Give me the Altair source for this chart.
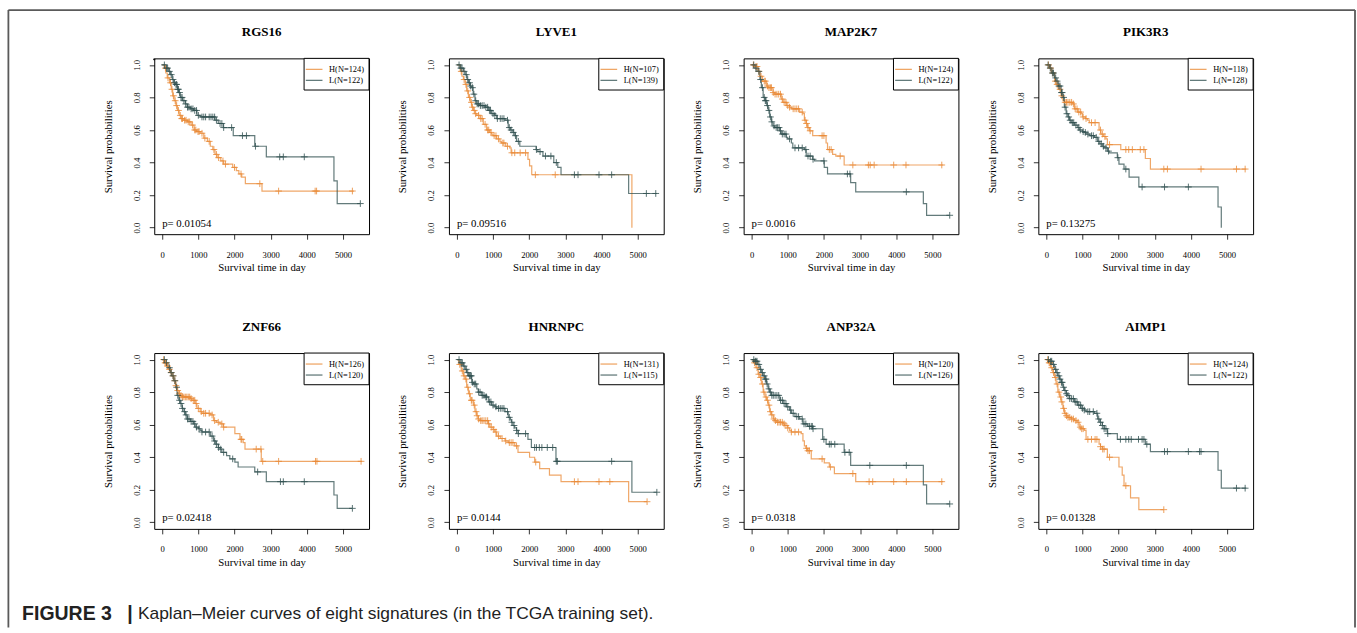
import altair as alt
import pandas as pd

# ---------------- data ----------------
GENES = ["RGS16", "LYVE1", "MAP2K7", "PIK3R3", "ZNF66", "HNRNPC", "ANP32A", "AIMP1"]
N_H = [124, 107, 124, 118, 126, 131, 120, 124]
N_L = [122, 139, 122, 128, 120, 115, 126, 122]
P_VALUES = ["0.01054", "0.09516", "0.0016", "0.13275", "0.02418", "0.0144", "0.0318", "0.01328"]

X_TICKS = [0, 1000, 2000, 3000, 4000, 5000]
Y_TICKS = [0.0, 0.2, 0.4, 0.6, 0.8, 1.0]

# RGS16
RGS16_H_T = [0, 60, 100, 140, 200, 250, 290, 330, 380, 420, 470, 520, 600, 700, 800, 880, 950, 1050, 1150, 1250, 1330, 1400, 1460, 1520, 1620, 1700, 1950, 2050, 2120, 2200, 2300, 2760, 5300]
RGS16_H_S = [1, 0.98, 0.95, 0.92, 0.89, 0.85, 0.81, 0.78, 0.75, 0.72, 0.69, 0.67, 0.66, 0.65, 0.63, 0.60, 0.59, 0.58, 0.55, 0.53, 0.50, 0.48, 0.45, 0.43, 0.41, 0.39, 0.37, 0.35, 0.33, 0.31, 0.27, 0.225, 0.225]
RGS16_H_C = [90, 160, 230, 270, 310, 360, 400, 450, 500, 540, 560, 620, 660, 720, 760, 840, 900, 930, 990, 1020, 1100, 1180, 1300, 1430, 1500, 1560, 1680, 1750, 2000, 2180, 2700, 3220, 4230, 4270, 5260]
RGS16_L_T = [0, 100, 180, 230, 280, 320, 370, 420, 460, 500, 560, 640, 690, 780, 870, 960, 1050, 1460, 1550, 1690, 1965, 2560, 2880, 4750, 4840, 5480]
RGS16_L_S = [1, 0.98, 0.96, 0.94, 0.91, 0.89, 0.88, 0.85, 0.83, 0.80, 0.78, 0.76, 0.74, 0.73, 0.72, 0.69, 0.68, 0.66, 0.64, 0.615, 0.565, 0.50, 0.435, 0.287, 0.148, 0.148]
RGS16_L_C = [60, 120, 150, 200, 250, 300, 340, 380, 400, 430, 450, 480, 520, 550, 600, 650, 700, 740, 800, 850, 900, 950, 1000, 1100, 1150, 1200, 1300, 1350, 1400, 1450, 1500, 1600, 1650, 1700, 1920, 2220, 2330, 2580, 3250, 3350, 3930, 5480]

# LYVE1
LYVE1_H_T = [0, 90, 140, 180, 230, 270, 320, 370, 410, 460, 500, 550, 640, 730, 820, 900, 960, 1000, 1100, 1190, 1230, 1350, 1460, 1500, 1965, 2010, 2070, 4840]
LYVE1_H_S = [1, 0.96, 0.93, 0.91, 0.88, 0.84, 0.80, 0.77, 0.74, 0.72, 0.70, 0.69, 0.67, 0.635, 0.60, 0.585, 0.575, 0.565, 0.545, 0.53, 0.52, 0.50, 0.49, 0.46, 0.42, 0.38, 0.325, 0.0]
LYVE1_H_C = [120, 200, 250, 300, 350, 400, 430, 480, 520, 600, 660, 700, 780, 850, 880, 940, 1030, 1080, 1150, 1270, 1300, 1400, 1520, 1600, 1750, 1900, 2170, 2720]
LYVE1_L_T = [0, 90, 180, 230, 280, 320, 370, 410, 450, 500, 550, 640, 780, 870, 960, 1050, 1100, 1330, 1420, 1480, 1550, 1600, 1650, 1740, 2190, 2240, 2380, 2680, 2790, 2880, 4750, 5530]
LYVE1_L_S = [1, 0.98, 0.96, 0.94, 0.91, 0.89, 0.87, 0.86, 0.82, 0.78, 0.76, 0.75, 0.74, 0.72, 0.70, 0.69, 0.67, 0.66, 0.615, 0.60, 0.585, 0.565, 0.53, 0.50, 0.48, 0.467, 0.44, 0.40, 0.37, 0.325, 0.21, 0.21]
LYVE1_L_C = [60, 110, 140, 200, 260, 300, 350, 380, 430, 470, 520, 560, 600, 650, 700, 750, 800, 850, 900, 930, 1000, 1050, 1120, 1200, 1250, 1300, 1400, 1450, 1500, 1560, 1620, 1700, 2200, 2300, 2450, 2600, 2750, 3250, 3350, 3930, 4280, 5240, 5500]

# MAP2K7
MAP2K7_H_T = [0, 90, 180, 230, 300, 410, 460, 590, 640, 820, 870, 960, 1050, 1100, 1330, 1420, 1460, 1510, 1550, 1600, 1690, 2060, 2100, 2240, 2330, 2560, 5300]
MAP2K7_H_S = [1, 0.99, 0.96, 0.93, 0.90, 0.87, 0.86, 0.83, 0.82, 0.79, 0.77, 0.75, 0.74, 0.73, 0.71, 0.70, 0.66, 0.64, 0.615, 0.595, 0.565, 0.52, 0.48, 0.45, 0.44, 0.385, 0.385]
MAP2K7_H_C = [50, 120, 150, 200, 260, 350, 380, 440, 480, 520, 550, 600, 650, 700, 750, 800, 850, 900, 950, 1000, 1050, 1150, 1200, 1250, 1300, 1400, 1480, 1520, 1560, 1620, 1950, 2000, 2150, 2200, 2450, 2800, 3230, 3280, 3390, 3930, 4270, 5260]
MAP2K7_L_T = [0, 90, 150, 230, 270, 320, 370, 420, 460, 500, 550, 590, 640, 780, 820, 960, 1000, 1100, 1140, 1460, 1510, 1690, 1740, 2010, 2100, 2740, 2880, 4750, 4840, 5480]
MAP2K7_L_S = [1, 0.98, 0.96, 0.91, 0.86, 0.80, 0.78, 0.75, 0.72, 0.68, 0.65, 0.625, 0.615, 0.595, 0.575, 0.555, 0.545, 0.52, 0.49, 0.48, 0.44, 0.42, 0.41, 0.37, 0.33, 0.277, 0.22, 0.148, 0.076, 0.076]
MAP2K7_L_C = [60, 120, 200, 250, 300, 350, 380, 400, 440, 480, 520, 560, 620, 680, 720, 760, 800, 850, 900, 950, 1050, 1200, 1300, 1400, 1500, 1560, 1620, 1700, 2000, 2650, 2720, 4280, 5480]

# PIK3R3
PIK3R3_H_T = [0, 90, 150, 230, 270, 330, 410, 460, 500, 730, 780, 870, 960, 1000, 1080, 1140, 1190, 1460, 1510, 1580, 1650, 1690, 2060, 2740, 2880, 5530]
PIK3R3_H_S = [1, 0.98, 0.95, 0.90, 0.88, 0.85, 0.81, 0.78, 0.77, 0.76, 0.73, 0.71, 0.70, 0.68, 0.67, 0.66, 0.645, 0.60, 0.575, 0.56, 0.545, 0.51, 0.48, 0.425, 0.36, 0.36]
PIK3R3_H_C = [60, 120, 180, 250, 300, 380, 430, 520, 560, 600, 650, 700, 750, 800, 850, 900, 950, 1020, 1100, 1250, 1350, 1500, 1550, 1620, 1750, 2200, 2280, 2380, 2600, 2700, 3250, 3350, 4280, 5260, 5500]
PIK3R3_L_T = [0, 90, 150, 230, 270, 330, 410, 460, 500, 550, 600, 640, 690, 780, 870, 910, 1000, 1050, 1100, 1200, 1330, 1420, 1480, 1550, 1600, 1690, 1740, 1965, 2010, 2150, 2290, 2560, 4750, 4840]
PIK3R3_L_S = [1, 0.98, 0.95, 0.92, 0.90, 0.87, 0.83, 0.80, 0.74, 0.70, 0.68, 0.66, 0.645, 0.63, 0.615, 0.60, 0.59, 0.585, 0.575, 0.565, 0.555, 0.53, 0.515, 0.50, 0.49, 0.47, 0.46, 0.43, 0.39, 0.36, 0.31, 0.25, 0.127, 0.0]
PIK3R3_L_C = [50, 110, 170, 200, 260, 300, 350, 380, 420, 440, 480, 520, 570, 620, 660, 720, 760, 820, 900, 940, 1020, 1080, 1150, 1250, 1300, 1380, 1450, 1520, 1580, 1650, 1720, 1980, 2200, 2650, 3270, 3930]

# ZNF66
ZNF66_H_T = [0, 50, 120, 180, 230, 270, 320, 370, 410, 460, 500, 550, 780, 820, 910, 960, 1050, 1100, 1330, 1420, 1500, 1600, 1690, 2010, 2150, 2240, 2290, 2740, 5530]
ZNF66_H_S = [1, 0.98, 0.96, 0.94, 0.92, 0.90, 0.87, 0.84, 0.81, 0.79, 0.78, 0.77, 0.76, 0.75, 0.73, 0.70, 0.68, 0.67, 0.66, 0.625, 0.615, 0.605, 0.585, 0.545, 0.51, 0.49, 0.45, 0.375, 0.375]
ZNF66_H_C = [40, 80, 100, 150, 200, 250, 300, 350, 380, 430, 480, 520, 560, 600, 640, 680, 720, 760, 800, 860, 900, 940, 1000, 1080, 1150, 1200, 1300, 1380, 1450, 1550, 1650, 1700, 2180, 2200, 2600, 2730, 2780, 3220, 4240, 4280, 5500]
ZNF66_L_T = [0, 90, 160, 230, 270, 320, 370, 410, 460, 500, 550, 600, 640, 690, 780, 870, 910, 1000, 1050, 1100, 1330, 1420, 1480, 1550, 1600, 1650, 1780, 1870, 2010, 2100, 2560, 2880, 4750, 4840, 5260]
ZNF66_L_S = [1, 0.98, 0.95, 0.92, 0.90, 0.87, 0.83, 0.78, 0.75, 0.73, 0.70, 0.68, 0.66, 0.635, 0.62, 0.605, 0.585, 0.575, 0.565, 0.555, 0.53, 0.50, 0.48, 0.46, 0.45, 0.43, 0.41, 0.39, 0.37, 0.34, 0.31, 0.25, 0.168, 0.086, 0.086]
ZNF66_L_C = [60, 120, 200, 250, 300, 350, 400, 430, 480, 520, 560, 620, 660, 700, 740, 800, 850, 900, 950, 1020, 1100, 1200, 1300, 1380, 1450, 1500, 1560, 1620, 1700, 1950, 2640, 3270, 3350, 3930, 5260]

# HNRNPC
HNRNPC_H_T = [0, 50, 120, 180, 230, 270, 320, 370, 460, 500, 550, 590, 640, 870, 910, 1000, 1050, 1100, 1200, 1330, 1420, 1600, 1690, 2010, 2150, 2290, 2560, 2880, 4750, 5260]
HNRNPC_H_S = [1, 0.97, 0.93, 0.90, 0.88, 0.83, 0.79, 0.75, 0.72, 0.68, 0.655, 0.635, 0.625, 0.605, 0.585, 0.57, 0.555, 0.53, 0.515, 0.50, 0.49, 0.47, 0.43, 0.40, 0.37, 0.33, 0.29, 0.25, 0.127, 0.127]
HNRNPC_H_C = [80, 150, 200, 250, 300, 350, 400, 420, 480, 530, 560, 600, 660, 700, 750, 800, 850, 880, 950, 1020, 1080, 1150, 1250, 1350, 1450, 1500, 1550, 1650, 2180, 3250, 3350, 3930, 4230, 5260]
HNRNPC_L_T = [0, 90, 180, 230, 270, 320, 410, 460, 550, 590, 690, 780, 870, 960, 1050, 1100, 1330, 1420, 1480, 1510, 1550, 1600, 1650, 1690, 1965, 2060, 2740, 4840, 5530]
HNRNPC_L_S = [1, 0.98, 0.96, 0.94, 0.92, 0.90, 0.86, 0.85, 0.82, 0.80, 0.78, 0.77, 0.74, 0.72, 0.71, 0.70, 0.68, 0.645, 0.63, 0.615, 0.595, 0.58, 0.565, 0.545, 0.51, 0.46, 0.375, 0.185, 0.185]
HNRNPC_L_C = [60, 120, 150, 200, 260, 300, 350, 380, 400, 430, 480, 520, 600, 640, 700, 750, 800, 820, 900, 940, 1000, 1080, 1150, 1200, 1250, 1300, 1400, 1450, 1520, 1580, 1650, 1700, 1900, 2150, 2200, 2280, 2350, 2500, 2650, 2750, 2780, 4280, 5530]

# ANP32A
ANP32A_H_T = [0, 50, 120, 180, 230, 270, 320, 370, 410, 460, 500, 550, 600, 640, 690, 870, 910, 1000, 1050, 1100, 1370, 1420, 1460, 1500, 1550, 1650, 2010, 2150, 2290, 2880, 5300]
ANP32A_H_S = [1, 0.98, 0.95, 0.91, 0.89, 0.85, 0.80, 0.77, 0.75, 0.72, 0.68, 0.66, 0.635, 0.625, 0.615, 0.605, 0.595, 0.58, 0.565, 0.555, 0.545, 0.50, 0.47, 0.455, 0.44, 0.39, 0.365, 0.34, 0.30, 0.25, 0.25]
ANP32A_H_C = [80, 150, 200, 250, 300, 340, 400, 440, 480, 520, 560, 620, 660, 720, 760, 800, 850, 900, 950, 1000, 1100, 1200, 1300, 1520, 1560, 1600, 1950, 2180, 2800, 3250, 3350, 3930, 4280, 5260]
ANP32A_L_T = [0, 90, 160, 230, 270, 320, 370, 410, 460, 500, 550, 780, 870, 960, 1050, 1100, 1200, 1330, 1420, 1550, 1690, 1965, 2060, 2560, 2740, 4750, 4840, 5480]
ANP32A_L_S = [1, 0.99, 0.97, 0.94, 0.92, 0.90, 0.88, 0.85, 0.82, 0.80, 0.78, 0.75, 0.73, 0.71, 0.69, 0.67, 0.65, 0.635, 0.605, 0.59, 0.575, 0.51, 0.48, 0.43, 0.35, 0.23, 0.113, 0.113]
ANP32A_L_C = [60, 100, 120, 150, 200, 250, 300, 350, 380, 400, 430, 480, 520, 560, 600, 650, 700, 750, 800, 850, 900, 950, 1000, 1080, 1150, 1250, 1300, 1400, 1450, 1500, 1600, 1650, 1680, 1700, 2000, 2150, 2200, 2300, 2580, 2700, 3270, 4280, 5480]

# AIMP1
AIMP1_H_T = [0, 50, 120, 180, 230, 270, 320, 370, 410, 460, 500, 550, 600, 690, 780, 850, 910, 960, 1050, 1100, 1460, 1500, 1550, 1690, 2010, 2100, 2150, 2330, 2560, 3250]
AIMP1_H_S = [1, 0.98, 0.95, 0.92, 0.89, 0.85, 0.80, 0.77, 0.74, 0.70, 0.67, 0.655, 0.645, 0.635, 0.625, 0.615, 0.585, 0.575, 0.565, 0.51, 0.48, 0.465, 0.45, 0.40, 0.34, 0.29, 0.225, 0.15, 0.078, 0.078]
AIMP1_H_C = [40, 80, 100, 150, 200, 250, 300, 350, 400, 430, 480, 520, 560, 600, 650, 700, 750, 820, 880, 940, 980, 1020, 1150, 1250, 1350, 1400, 1500, 1560, 1600, 1750, 2200, 3250]
AIMP1_L_T = [0, 90, 160, 230, 270, 320, 370, 410, 460, 500, 550, 590, 640, 780, 870, 960, 1050, 1100, 1330, 1420, 1480, 1550, 1600, 1690, 1965, 2740, 2880, 4750, 4840, 5530]
AIMP1_L_S = [1, 0.99, 0.97, 0.94, 0.92, 0.90, 0.88, 0.86, 0.83, 0.81, 0.79, 0.78, 0.76, 0.74, 0.72, 0.70, 0.69, 0.68, 0.67, 0.635, 0.615, 0.595, 0.575, 0.545, 0.51, 0.48, 0.435, 0.32, 0.21, 0.21]
AIMP1_L_C = [60, 120, 150, 200, 260, 300, 350, 380, 420, 440, 480, 520, 560, 600, 650, 700, 750, 800, 850, 900, 950, 1000, 1050, 1150, 1200, 1300, 1400, 1450, 1500, 1550, 1600, 1650, 1700, 2050, 2200, 2280, 2350, 2550, 2650, 2700, 2780, 3270, 3350, 3930, 4240, 4280, 5260, 5500]

CURVES = {
    "RGS16": (RGS16_H_T, RGS16_H_S, RGS16_H_C, RGS16_L_T, RGS16_L_S, RGS16_L_C),
    "LYVE1": (LYVE1_H_T, LYVE1_H_S, LYVE1_H_C, LYVE1_L_T, LYVE1_L_S, LYVE1_L_C),
    "MAP2K7": (MAP2K7_H_T, MAP2K7_H_S, MAP2K7_H_C, MAP2K7_L_T, MAP2K7_L_S, MAP2K7_L_C),
    "PIK3R3": (PIK3R3_H_T, PIK3R3_H_S, PIK3R3_H_C, PIK3R3_L_T, PIK3R3_L_S, PIK3R3_L_C),
    "ZNF66": (ZNF66_H_T, ZNF66_H_S, ZNF66_H_C, ZNF66_L_T, ZNF66_L_S, ZNF66_L_C),
    "HNRNPC": (HNRNPC_H_T, HNRNPC_H_S, HNRNPC_H_C, HNRNPC_L_T, HNRNPC_L_S, HNRNPC_L_C),
    "ANP32A": (ANP32A_H_T, ANP32A_H_S, ANP32A_H_C, ANP32A_L_T, ANP32A_L_S, ANP32A_L_C),
    "AIMP1": (AIMP1_H_T, AIMP1_H_S, AIMP1_H_C, AIMP1_L_T, AIMP1_L_S, AIMP1_L_C),
}

# ---------------- styling ----------------
SERIF = "Liberation Serif"
SANS = "Liberation Sans"
ORANGE = "#EA8A35"
SLATE = "#2F4F4F"
W, H = 215, 176
PLUS = "M-1,0L1,0M0,-1L0,1"


def step_value(T, S, t):
    v = S[0]
    for ti, si in zip(T, S):
        if ti <= t:
            v = si
        else:
            break
    return v


x_scale = alt.Scale(domain=[-220, 5720], nice=False, zero=False)
y_scale = alt.Scale(domain=[-0.04, 1.04], nice=False, zero=False)
c_scale = alt.Scale(domain=["H", "L"], range=[ORANGE, SLATE])

x_axis = alt.Axis(values=X_TICKS, format="d", title="Survival time in day",
                  labelFont=SERIF, labelFontSize=8.6, labelColor="black",
                  labelPadding=15, labelBaseline="middle", labelFlush=False, labelOverlap=False,
                  tickColor="black", tickSize=5, tickWidth=0.8, domain=False, grid=False,
                  titleFont=SERIF, titleFontSize=10.8, titleFontWeight="normal", titleColor="black",
                  titleX=107.5, titleY=33.7, titleAlign="center", titleBaseline="middle")
y_axis = alt.Axis(values=Y_TICKS, format=".1f", title="Survival probabilities",
                  labelFont=SERIF, labelFontSize=8.6, labelColor="black",
                  labelAngle=270, labelAlign="center", labelBaseline="middle",
                  labelPadding=13, labelFlush=False, labelOverlap=False,
                  tickColor="black", tickSize=5, tickWidth=0.8, domain=False, grid=False,
                  titleFont=SERIF, titleFontSize=10.8, titleFontWeight="normal", titleColor="black",
                  titleAngle=270, titleX=-46, titleY=88, titleAlign="center", titleBaseline="middle")

ONE = pd.DataFrame({"k": [0]})


def make_panel(i):
    gene = GENES[i]
    hT, hS, hC, lT, lS, lC = CURVES[gene]
    line_rows = ([{"t": t, "s": s, "g": "H"} for t, s in zip(hT, hS)] +
                 [{"t": t, "s": s, "g": "L"} for t, s in zip(lT, lS)])
    cens_rows = ([{"t": t, "s": step_value(hT, hS, t), "g": "H"} for t in hC] +
                 [{"t": t, "s": step_value(lT, lS, t), "g": "L"} for t in lC])
    x = alt.X("t:Q", scale=x_scale, axis=x_axis)
    y = alt.Y("s:Q", scale=y_scale, axis=y_axis)
    color = alt.Color("g:N", scale=c_scale, legend=None)

    lines = alt.Chart(pd.DataFrame(line_rows)).mark_line(
        interpolate="step-after", strokeWidth=1.2, opacity=0.75
    ).encode(x=x, y=y, color=color)
    cens = alt.Chart(pd.DataFrame(cens_rows)).mark_point(
        shape=PLUS, filled=False, size=45, strokeWidth=1, opacity=0.8
    ).encode(x=x, y=y, color=color)
    ptext = alt.Chart(pd.DataFrame({"t": [0], "s": [0.025], "label": ["p= " + P_VALUES[i]]})).mark_text(
        align="left", baseline="middle", font=SERIF, fontSize=10.8, color="black"
    ).encode(x=x, y=y, text="label:N")

    box = alt.Chart(ONE).mark_rect(fill="white", stroke="black", strokeWidth=1).encode(
        x=alt.value(150), x2=alt.value(215), y=alt.value(0), y2=alt.value(31.7))
    leg_h = alt.Chart(ONE).mark_rule(color=ORANGE, strokeWidth=1.2, opacity=0.8).encode(
        x=alt.value(151.7), x2=alt.value(168.4), y=alt.value(11))
    leg_l = alt.Chart(ONE).mark_rule(color=SLATE, strokeWidth=1.2, opacity=0.8).encode(
        x=alt.value(151.7), x2=alt.value(168.4), y=alt.value(22))
    txt_h = alt.Chart(ONE).mark_text(align="left", baseline="middle", font=SERIF, fontSize=8.4, color="black").encode(
        x=alt.value(175), y=alt.value(11), text=alt.value(f"H(N={N_H[i]})"))
    txt_l = alt.Chart(ONE).mark_text(align="left", baseline="middle", font=SERIF, fontSize=8.4, color="black").encode(
        x=alt.value(175), y=alt.value(22), text=alt.value(f"L(N={N_L[i]})"))

    return alt.layer(lines, cens, ptext, box, leg_h, leg_l, txt_h, txt_l).properties(
        width=W, height=H,
        title=alt.TitleParams(text=gene, font=SERIF, fontSize=13, fontWeight="bold", color="black",
                              frame="group", anchor="middle", baseline="bottom", offset=6),
    )


panels = [make_panel(i) for i in range(8)]
grid = alt.concat(*panels, columns=4, spacing={"row": 119, "column": 80}, bounds="flush")

# figure frame and caption (decoration, pixel positions relative to the frame view origin)
FRAME = "#5a5a5a"
f_left = alt.Chart(ONE).mark_rule(color=FRAME, strokeWidth=1.8).encode(
    x=alt.value(-145), y=alt.value(-48.3), y2=alt.value(569.7))
f_right = alt.Chart(ONE).mark_rule(color=FRAME, strokeWidth=1.8).encode(
    x=alt.value(1203), y=alt.value(-48.3), y2=alt.value(569.7))
f_top = alt.Chart(ONE).mark_rule(color=FRAME, strokeWidth=1.8).encode(
    x=alt.value(-145), x2=alt.value(1203), y=alt.value(-48.3))
cap_bold = alt.Chart(ONE).mark_text(align="left", baseline="middle", font=SANS, fontSize=19.5,
                                    fontWeight="bold", color="#222222").encode(
    x=alt.value(-131.3), y=alt.value(556.7), text=alt.value("FIGURE 3"))
cap_bar = alt.Chart(ONE).mark_text(align="center", baseline="middle", font=SANS, fontSize=19.5,
                                   fontWeight="bold", color="#222222").encode(
    x=alt.value(-23.3), y=alt.value(556.7), text=alt.value("|"))
cap_text = alt.Chart(ONE).mark_text(align="left", baseline="middle", font=SANS, fontSize=17.4,
                                    color="#222222").encode(
    x=alt.value(-15.3), y=alt.value(556.7),
    text=alt.value("Kaplan\u2013Meier curves of eight signatures (in the TCGA training set)."))
frame_chart = alt.layer(f_left, f_right, f_top, cap_bold, cap_bar, cap_text).properties(width=1, height=1)

chart = alt.hconcat(frame_chart, grid, spacing=0, bounds="flush").properties(
    padding={"left": 6.4, "top": 8.1, "right": 0, "bottom": 0},
    background="white",
).configure_view(stroke="black", strokeWidth=1)

chart.save("out.html", embed_options={"renderer": "svg", "actions": False})
